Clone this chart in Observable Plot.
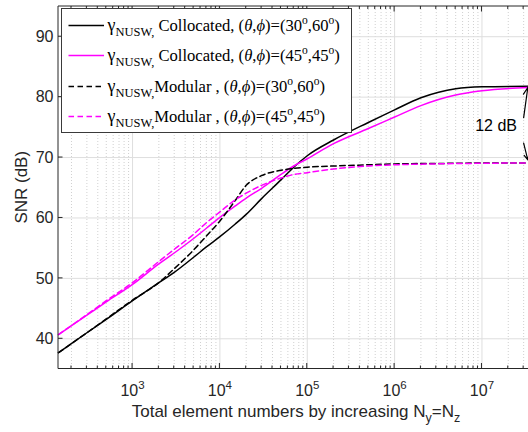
<!DOCTYPE html>
<html>
<head>
<meta charset="utf-8">
<script src="https://cdn.jsdelivr.net/npm/d3@7"></script>
<script src="https://cdn.jsdelivr.net/npm/@observablehq/plot@0.6"></script>
<style>
html,body{margin:0;padding:0;background:#fff;}
#chart{width:528px;height:432px;overflow:hidden;}
</style>
</head>
<body>
<div id="chart"></div>
<script>
// ---------------- data ----------------
const elements = [142, 300, 500, 1e3, 2e3, 3e3, 5e3, 7e3, 1e4, 1.5e4, 2e4, 3e4, 5e4, 7e4, 1e5, 2e5, 5e5, 1e6, 2e6, 5e6, 1e7, 3.41e7];
const snrCollocated3060 = [37.7, 41.0, 43.2, 46.3, 49.3, 51.0, 53.5, 55.2, 56.9, 59.0, 60.6, 63.2, 66.3, 68.4, 70.3, 72.9, 75.8, 77.9, 79.9, 81.4, 81.7, 81.8];
const snrCollocated4545 = [40.7, 43.9, 46.1, 49.0, 52.4, 54.2, 56.6, 58.3, 60.1, 62.0, 63.3, 64.9, 67.2, 68.6, 69.8, 72.3, 74.8, 76.7, 78.6, 80.35, 81.05, 81.6];
const snrModular3060 = [37.7, 41.0, 43.3, 46.4, 49.3, 51.6, 54.7, 57.0, 59.5, 62.9, 65.4, 67.0, 67.9, 68.2, 68.4, 68.6, 68.8, 68.95, 69.0, 69.05, 69.1, 69.1];
const snrModular4545 = [40.7, 44.0, 46.3, 49.3, 52.8, 54.8, 57.3, 59.2, 61.0, 63.0, 64.1, 65.4, 66.6, 67.2, 67.5, 68.1, 68.6, 68.8, 68.9, 69.0, 69.05, 69.1];

const seriesMethod = ["Collocated", "Collocated", "Modular", "Modular"];
const seriesAngles = [[30, 60], [45, 45], [30, 60], [45, 45]];
const seriesColors = ["#000000", "#ff00ff", "#000000", "#ff00ff"];
const seriesDashed = [false, false, true, true];

const xDomain = [142, 3.41e7];
const yDomain = [35, 95];
const xMajorTicks = [1e3, 1e4, 1e5, 1e6, 1e7];
const xTickExponents = ["3", "4", "5", "6", "7"];
const yTicks = [40, 50, 60, 70, 80, 90];
const minorMultipliers = [2, 3, 4, 5, 6, 7, 8, 9];
const minorDecades = [1e2, 1e3, 1e4, 1e5, 1e6, 1e7];
const xMinorTicks = minorDecades.flatMap(d => minorMultipliers.map(m => m * d)).filter(v => v >= xDomain[0] && v <= xDomain[1]);

const gapLabel = ["12 dB"];
const gapLabelX = [1.45e7];
const gapLabelY = [75.2];
const arrowX1 = [3.0e7, 3.0e7];
const arrowY1 = [76.6, 72.4];
const arrowX2 = [3.35e7, 3.35e7];
const arrowY2 = [81.6, 69.6];

const xLabel = ["Total element numbers by increasing N", "y", "=N", "z"];
const yLabel = "SNR (dB)";

// ---------------- build ----------------
(function () {
const allSeries = [snrCollocated3060, snrCollocated4545, snrModular3060, snrModular4545];
const rowsFor = vals => elements.map((x, i) => ({x, y: vals[i]}));
const sansFont = "'Liberation Sans', Arial, Helvetica, sans-serif";
const serifFont = "'Liberation Serif', 'Times New Roman', serif";
const axisColor = "#262626";

const lineMarks = allSeries.map((vals, i) => Plot.line(rowsFor(vals), {
  x: "x", y: "y", stroke: seriesColors[i], strokeWidth: 1.5,
  strokeDasharray: seriesDashed[i] ? "5.5,3.5" : null, curve: "monotone-x"
}));

const chart = Plot.plot({
  width: 528, height: 432,
  marginLeft: 58, marginRight: 0, marginTop: 6, marginBottom: 63.5,
  style: {fontFamily: sansFont, fontSize: "16px", color: axisColor, background: "white"},
  x: {type: "log", domain: xDomain},
  y: {domain: yDomain},
  marks: [
    Plot.ruleX(xMinorTicks, {stroke: "#c4c4c4", strokeWidth: 0.8, strokeDasharray: "1,2"}),
    Plot.ruleX(xMajorTicks, {stroke: "#dedede", strokeWidth: 1}),
    Plot.ruleY(yTicks, {stroke: "#dedede", strokeWidth: 1}),
    ...lineMarks,
    Plot.text(gapLabel, {x: (d, i) => gapLabelX[i], y: (d, i) => gapLabelY[i], text: d => d, fontSize: 16, fill: "#000", fontFamily: sansFont}),
    Plot.arrow(arrowX1, {x1: d => d, y1: (d, i) => arrowY1[i], x2: (d, i) => arrowX2[i], y2: (d, i) => arrowY2[i], stroke: "#000", strokeWidth: 1.2, headLength: 10, headAngle: 50}),
    Plot.axisX({ticks: xMajorTicks, tickSize: 0, tickPadding: 16, tickFormat: d => "10^" + xTickExponents[xMajorTicks.indexOf(d)], label: null, fontSize: 16}),
    Plot.axisY({ticks: yTicks, tickSize: 0, tickPadding: 5, label: null, fontSize: 16})
  ]
});
document.getElementById("chart").appendChild(chart);

const svg = d3.select(chart);
const X = v => chart.scale("x").apply(v);
const Y = v => chart.scale("y").apply(v);
const pLeft = X(xDomain[0]), pRight = X(xDomain[1]);
const pTop = Y(yDomain[1]), pBottom = Y(yDomain[0]);

// superscript tick labels
svg.selectAll('g[aria-label="x-axis tick label"] text').each(function () {
  const t = d3.select(this);
  const s = t.text();
  const parts = s.split("^");
  t.text("");
  t.append("tspan").text(parts[0]);
  t.append("tspan").attr("dy", -7).attr("font-size", 11.5).text(parts[1]);
});

// axes box lines and inward ticks
const axes = svg.append("g").attr("stroke", axisColor).attr("stroke-width", 1).attr("fill", "none");
axes.append("line").attr("x1", pLeft).attr("x2", pLeft).attr("y1", pTop).attr("y2", pBottom);
axes.append("line").attr("x1", pLeft).attr("x2", pRight).attr("y1", pBottom).attr("y2", pBottom);
axes.append("line").attr("x1", pLeft).attr("x2", pRight).attr("y1", pTop).attr("y2", pTop);
xMajorTicks.forEach(v => {
  axes.append("line").attr("x1", X(v)).attr("x2", X(v)).attr("y1", pBottom).attr("y2", pBottom - 5.5);
  axes.append("line").attr("x1", X(v)).attr("x2", X(v)).attr("y1", pTop).attr("y2", pTop + 5.5);
});
xMinorTicks.forEach(v => {
  axes.append("line").attr("x1", X(v)).attr("x2", X(v)).attr("y1", pBottom).attr("y2", pBottom - 3);
  axes.append("line").attr("x1", X(v)).attr("x2", X(v)).attr("y1", pTop).attr("y2", pTop + 3);
});
yTicks.forEach(v => {
  axes.append("line").attr("x1", pLeft).attr("x2", pLeft + 4.5).attr("y1", Y(v)).attr("y2", Y(v));
});

// axis labels
const xl = svg.append("text").attr("x", 296).attr("y", 417).attr("text-anchor", "middle")
  .attr("font-family", sansFont).attr("font-size", 17).attr("fill", axisColor).style("white-space", "pre");
xl.append("tspan").text(xLabel[0]);
xl.append("tspan").attr("dy", 5).attr("font-size", 12.5).text(xLabel[1]);
xl.append("tspan").attr("dy", -5).text(xLabel[2]);
xl.append("tspan").attr("dy", 5).attr("font-size", 12.5).text(xLabel[3]);

svg.append("text").attr("transform", `translate(26.5,${(pTop + pBottom) / 2}) rotate(-90)`)
  .attr("text-anchor", "middle").attr("font-family", sansFont).attr("font-size", 17)
  .attr("fill", axisColor).text(yLabel);

// legend
const lg = svg.append("g").attr("text-anchor", "start");
lg.append("rect").attr("x", 61.5).attr("y", 8.5).attr("width", 290).attr("height", 124)
  .attr("fill", "white").attr("stroke", "#3a3a3a").attr("stroke-width", 1);
const rowY = [25.5, 55.5, 86.5, 116.5];
function richText(sel, parts) {
  let off = 0;
  parts.forEach(p => {
    const ts = sel.append("tspan").text(p.t);
    const target = p.k === "sub" ? 5 : p.k === "sup" ? -6.5 : 0;
    ts.attr("dy", target - off);
    off = target;
    if (p.k === "sub") ts.attr("font-size", 12.5);
    if (p.k === "sup") ts.attr("font-size", 11.5);
    if (p.k === "it") ts.attr("font-style", "italic");
    if (p.k === "big") ts.attr("font-size", 18);
  });
}
seriesMethod.forEach((m, i) => {
  const y = rowY[i];
  lg.append("line").attr("x1", 68.5).attr("x2", 104).attr("y1", y).attr("y2", y)
    .attr("stroke", seriesColors[i]).attr("stroke-width", 1.5)
    .attr("stroke-dasharray", seriesDashed[i] ? "5.5,3.5" : null);
  const t = lg.append("text").attr("x", 107.5).attr("y", y + 5.3).attr("text-anchor", "start")
    .attr("font-family", serifFont).attr("font-size", 16.6).attr("fill", "#000").style("white-space", "pre");
  const a = seriesAngles[i][0], b = seriesAngles[i][1];
  richText(t, [
    {t: "γ", k: "big"}, {t: "NUSW,", k: "sub"},
    {t: (m === "Collocated" ? " " : "") + m + (m === "Modular" ? " " : "") + ", ("},
    {t: "θ", k: "it"}, {t: ","}, {t: "ϕ", k: "it"},
    {t: ")=(" + a}, {t: "o", k: "sup"}, {t: "," + b}, {t: "o", k: "sup"}, {t: ")"}
  ]);
});
})();
</script>
</body>
</html>
